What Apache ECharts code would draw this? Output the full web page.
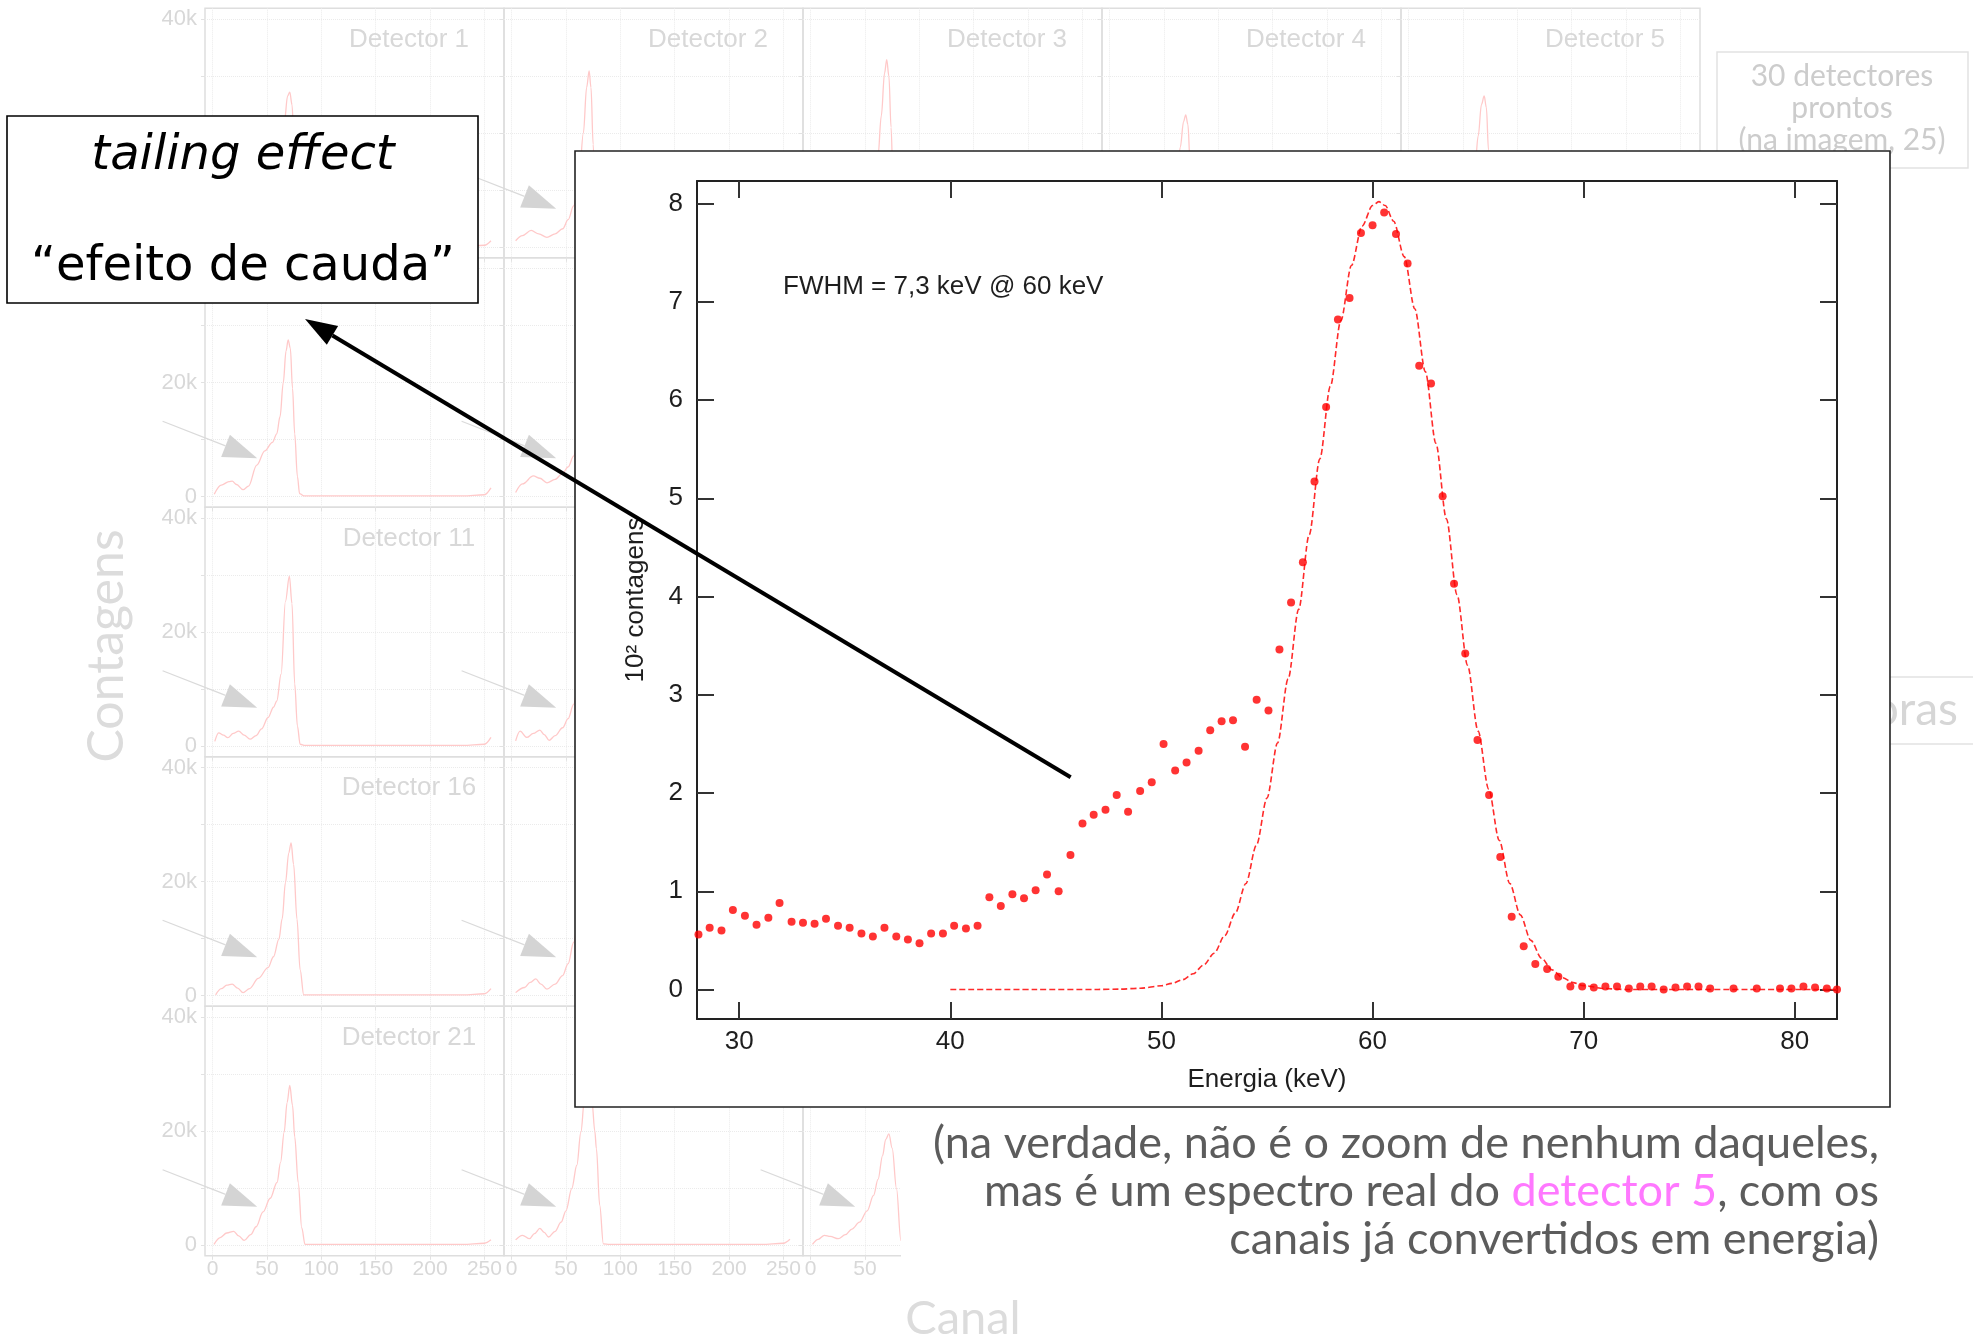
<!DOCTYPE html>
<html>
<head>
<meta charset="utf-8">
<script src="https://cdn.jsdelivr.net/npm/echarts@6/dist/echarts.min.js"></script>
<style>
  html, body { margin: 0; padding: 0; background: #ffffff; }
  #chart { width: 1973px; height: 1336px; }
</style>
</head>
<body>
<div id="chart"></div>
<script>
// ---------------------------------------------------------------
// Detector 5 spectrum (energy in keV, counts in units of 10^2)
// ---------------------------------------------------------------
const energy = [
  28.07, 28.60, 29.16, 29.70, 30.27, 30.82, 31.38, 31.91, 32.48, 33.02,
  33.57, 34.11, 34.68, 35.23, 35.79, 36.33, 36.88, 37.44, 37.99, 38.54,
  39.09, 39.65, 40.18, 40.74, 41.29, 41.85, 42.39, 42.94, 43.49, 44.04,
  44.58, 45.13, 45.69, 46.26, 46.79, 47.35, 47.88, 48.42, 48.99, 49.54,
  50.10, 50.65, 51.19, 51.76, 52.31, 52.85, 53.39, 53.96, 54.51, 55.07,
  55.59, 56.14, 56.70, 57.25, 57.80, 58.36, 58.91, 59.45, 60.00, 60.55,
  61.11, 61.66, 62.21, 62.77, 63.32, 63.86, 64.39, 64.97, 65.52, 66.05,
  66.59, 67.16, 67.71, 68.27, 68.80, 69.37, 69.93, 70.48, 71.03, 71.58,
  72.14, 72.68, 73.22, 73.79, 74.35, 74.90, 75.44, 75.99, 77.10, 78.20,
  79.30, 79.84, 80.41, 80.96, 81.52, 82.00
];
const counts = [
  0.56, 0.63, 0.60, 0.81, 0.75, 0.66, 0.73, 0.88, 0.69, 0.68,
  0.67, 0.72, 0.65, 0.63, 0.57, 0.54, 0.63, 0.54, 0.51, 0.47,
  0.57, 0.57, 0.65, 0.62, 0.65, 0.94, 0.85, 0.97, 0.93, 1.01,
  1.17, 1.00, 1.37, 1.69, 1.78, 1.83, 1.98, 1.81, 2.02, 2.11,
  2.50, 2.23, 2.31, 2.43, 2.64, 2.73, 2.74, 2.47, 2.95, 2.84,
  3.46, 3.94, 4.35, 5.17, 5.93, 6.82, 7.04, 7.70, 7.78, 7.91,
  7.69, 7.39, 6.35, 6.17, 5.02, 4.13, 3.42, 2.54, 1.98, 1.35,
  0.74, 0.44, 0.26, 0.21, 0.13, 0.03, 0.03, 0.02, 0.03, 0.03,
  0.01, 0.03, 0.03, 0.00, 0.02, 0.03, 0.03, 0.01, 0.01, 0.01,
  0.01, 0.01, 0.03, 0.02, 0.01, 0.00
];

// Gaussian fit of the 60 keV photopeak
const fitEnergy = [
  40, 44, 47, 48, 49, 50,
  50.5, 51, 51.5, 52, 52.5, 53, 53.5, 54, 54.5, 55,
  55.5, 56, 56.5, 57, 57.5, 58, 58.5, 59, 59.5, 60,
  60.3, 60.6,
  61, 61.5, 62, 62.5, 63, 63.5, 64, 64.5, 65, 65.5,
  66, 66.5, 67, 67.5, 68, 68.5, 69, 69.5, 70,
  71, 72, 74, 78, 82
];
const fitCounts = [
  0, 0, 0.001, 0.004, 0.013, 0.038,
  0.063, 0.10, 0.16, 0.25, 0.37, 0.55, 0.78, 1.08, 1.47, 1.95,
  2.51, 3.16, 3.87, 4.63, 5.40, 6.14, 6.81, 7.37, 7.77, 7.98,
  8.02, 7.98,
  7.82, 7.46, 6.93, 6.29, 5.56, 4.79, 4.02, 3.30, 2.63, 2.04,
  1.52, 1.08, 0.76, 0.50, 0.32, 0.20, 0.12, 0.07, 0.04,
  0.01, 0, 0, 0, 0
];

const energyTicks = [30, 40, 50, 60, 70, 80];
const countTicks = [0, 1, 2, 3, 4, 5, 6, 7, 8];

// ---------------------------------------------------------------
// Raw detector spectra: [channel, counts in thousands]
// ---------------------------------------------------------------
const det1 = [[1,0.4],[6,2.0],[12,2.6],[18,2.8],[24,1.8],[29,1.2],[35,2.2],[42,4.5],[50,7.5],[57,11],[62,15],[66,22],[69,26.5],[71,27.2],[73,25],[75,18],[77,8],[79,2.5],[82,0.4],[90,0.1],[160,0.1],[230,0.1],[250,0.3],[256,1.1]];
const det2 = [[3.7,1.1],[10,2.0],[18,2.9],[25,2.3],[32.5,1.7],[40,2.3],[47,3.2],[52,4.8],[57,7.2],[62,12],[66,20],[69,28],[71.3,30.9],[73,28],[75,18],[77,8],[79,2.5],[82,0.4],[90,0.1],[160,0.1],[230,0.1],[250,0.3],[256,1.0]];
const det3 = [[2,0.5],[8,2.0],[16,2.7],[22,2.0],[28,1.3],[35,2.4],[42,4.5],[50,7.5],[57,11],[62,16],[65,23],[68,30.5],[70,32.9],[72,30],[74,21],[76,10],[78,3],[81,0.4],[88,0.1],[160,0.1],[230,0.1],[250,0.3],[256,1.2]];
const det4 = [[2,0.5],[8,1.8],[16,2.4],[22,1.8],[28,1.1],[35,2.0],[42,3.8],[50,6.5],[57,9.5],[62,13],[65,17.5],[68,22],[70,23.2],[72,21.5],[74,15],[76,7.5],[78,2.5],[81,0.4],[88,0.1],[160,0.1],[230,0.1],[250,0.3],[256,1.0]];
const det5 = [[2,0.5],[8,1.9],[16,2.5],[22,1.9],[28,1.2],[35,2.1],[42,4.0],[50,7.0],[57,10.5],[61,14],[64,19.5],[67,25],[69.5,26.5],[71.5,24.5],[73.5,17],[75.5,8],[77.5,2.5],[80,0.4],[88,0.1],[160,0.1],[230,0.1],[250,0.3],[256,1.1]];
const det6 = [[1.5,0.4],[8,2.0],[15,2.6],[18,2.7],[22,2.1],[28,1.2],[33,1.8],[40.6,5.5],[48,8],[55,9.5],[59,11],[62,14],[65,20],[67.5,25.5],[69.5,27.5],[71.5,26],[73.5,19],[75.5,11],[78,3.5],[80,0.5],[84,0.1],[160,0.1],[230,0.1],[250,0.3],[256,1.5]];
const det7 = [[3.7,0.7],[10,2.2],[20,3.6],[26,3.2],[32.5,2.4],[40,3.0],[47,4.1],[52,5.2],[57,7.1],[62,11],[66,19],[69,26],[71,28],[73,25],[75,15],[77,6],[80,1],[84,0.1],[160,0.1],[230,0.1],[250,0.3],[256,1.2]];
const det11 = [[2,0.8],[5.6,2.3],[10,1.9],[14,1.45],[19,2.2],[24,2.6],[29,1.9],[34.4,1.2],[40,1.8],[45,3.0],[51,5],[56,6.8],[59,7.9],[63,12.6],[67,25.4],[70.6,29.8],[73,25],[75.5,10.9],[78,3.5],[80.5,0.3],[85,0.1],[160,0.1],[230,0.1],[250,0.3],[256,1.5]];
const det12 = [[3.7,0.9],[7.8,2.6],[14,1.5],[20,2.2],[26,2.8],[30,2.0],[34.5,1.0],[40,1.8],[46.9,3.2],[52,4.8],[57,7.3],[62,12],[66,21],[69,27],[71,28.5],[73,25],[75,15],[77,6],[80,1],[84,0.1],[160,0.1],[230,0.1],[250,0.3],[256,1.2]];
const det16 = [[2.8,0.1],[8,1.2],[13,1.8],[18,2.0],[23,1.3],[28,0.5],[34,1.2],[42,3.0],[51,4.9],[56,6.8],[61,9.9],[64,13.5],[67,19.8],[70,25],[72.2,26.8],[74.5,23],[77.6,13.4],[80.5,4.5],[83.8,0.1],[160,0.1],[230,0.1],[250,0.3],[256,1.2]];
const det17 = [[3.7,0.5],[12,1.4],[17,2.3],[22.2,2.9],[27,2.0],[32.5,1.1],[40,2.0],[46.9,3.5],[52,5.6],[57,9.3],[62,14],[66,21],[69,26],[71,27.5],[73,24],[75,15],[77,6],[80,1],[84,0.1],[160,0.1],[230,0.1],[250,0.3],[256,1.2]];
const det21 = [[1.3,0.1],[7,1.3],[13,2.1],[19.4,2.4],[24,1.6],[29,0.8],[35,1.8],[40,3.2],[46.4,5.8],[53,8.2],[59.3,11],[62.5,14.5],[65.8,19.8],[68.5,25],[71,28],[73.5,24.5],[75.5,19],[78.7,11],[82,3],[85,0.1],[160,0.1],[230,0.1],[250,0.3],[256,0.9]];
const det22 = [[3.7,0.9],[10,1.7],[16.5,1.1],[21,2.0],[26,2.9],[30,2.2],[34,1.4],[40,2.4],[45.5,4.0],[50,6.0],[55.3,9.9],[60,14],[63.7,19.8],[67,25.5],[70.4,29],[74,25],[76.5,20],[78,16.9],[81,7],[84.4,0.2],[90,0.1],[160,0.1],[230,0.1],[250,0.3],[256,1.0]];
const det23 = [[1.7,0.1],[7,1.0],[12.7,1.7],[18,1.5],[25.5,1.1],[32,1.8],[38,2.8],[45,4.0],[52,6.0],[57.9,8.7],[62,11.5],[66.2,15.7],[69,18.5],[72,19.5],[75,17],[79,9.9],[83,0.8],[87,0.1],[160,0.1],[230,0.1],[250,0.3],[256,1.0]];

const channelTicks = [0, 50, 100, 150, 200, 250];
const kCountTicks = [0, 10, 20, 30, 40];
const kCountLabels = [0, 20, 40];

// Annotation arrow in each panel (channel, thousands): tail of the spectrum
const tailArrow = { from: [-46, 13.2], to: [41, 6.7] };
// Main arrow starts on the low-energy tail of the detector 5 spectrum
const tailPoint = [45.7, 2.16];

// ---------------------------------------------------------------
// Layout
// ---------------------------------------------------------------
const PANEL = { left: 205, top: 8.3, w: 299, h: 249.5 };
const MAIN = { left: 697, top: 181, width: 1140, height: 838 };
const INSET = { x: 575, y: 151, w: 1315, h: 956 };
const BG_TEXT = '#d8d8d8';
const SANS = '"Liberation Sans", Arial, sans-serif';

const panels = [
  { name: 'Detector 1',  row: 0, col: 0, data: det1 },
  { name: 'Detector 2',  row: 0, col: 1, data: det2 },
  { name: 'Detector 3',  row: 0, col: 2, data: det3 },
  { name: 'Detector 4',  row: 0, col: 3, data: det4 },
  { name: 'Detector 5',  row: 0, col: 4, data: det5 },
  { name: 'Detector 6',  row: 1, col: 0, data: det6 },
  { name: 'Detector 7',  row: 1, col: 1, data: det7 },
  { name: 'Detector 11', row: 2, col: 0, data: det11 },
  { name: 'Detector 12', row: 2, col: 1, data: det12 },
  { name: 'Detector 16', row: 3, col: 0, data: det16 },
  { name: 'Detector 17', row: 3, col: 1, data: det17 },
  { name: 'Detector 21', row: 4, col: 0, data: det21 },
  { name: 'Detector 22', row: 4, col: 1, data: det22 },
  { name: 'Detector 23', row: 4, col: 2, data: det23 }
];

const grids = [], xAxes = [], yAxes = [], series = [];

panels.forEach((p, i) => {
  grids.push({
    left: PANEL.left + p.col * PANEL.w,
    top: PANEL.top + p.row * PANEL.h,
    width: PANEL.w, height: PANEL.h,
    show: true, borderColor: '#dedede', borderWidth: 1.5,
    backgroundColor: 'transparent', outerBoundsMode: 'none'
  });
  xAxes.push({
    gridIndex: i, type: 'value', min: -7, max: 268,
    axisLine: { show: false, onZero: false },
    axisTick: { show: true, length: 4, customValues: channelTicks, lineStyle: { color: '#e2e2e2' } },
    axisLabel: { show: p.row === 4, customValues: channelTicks, margin: 3,
                 fontSize: 21, fontFamily: SANS, color: BG_TEXT },
    splitLine: { show: true, lineStyle: { type: 'dotted', color: '#ebebeb', width: 1 } }
  });
  yAxes.push({
    gridIndex: i, type: 'value', min: -1.9, max: 41.9,
    axisLine: { show: false, onZero: false },
    axisTick: { show: true, length: 4, customValues: kCountTicks, lineStyle: { color: '#e2e2e2' } },
    axisLabel: { show: p.col === 0, customValues: kCountLabels, margin: 8,
                 fontSize: 22, fontFamily: SANS, color: BG_TEXT,
                 formatter: v => (v === 0 ? '0' : v + 'k') },
    splitLine: { show: true, lineStyle: { type: 'dotted', color: '#ebebeb', width: 1 } }
  });
  series.push({
    type: 'line', xAxisIndex: i, yAxisIndex: i, data: p.data,
    smooth: 0.35, smoothMonotone: 'x', symbol: 'none', silent: true, z: 2,
    lineStyle: { color: '#ffc9c9', width: 1.3 }
  });
});

// Main spectrum plot (boxed, ticks on all four sides pointing inwards)
const mg = panels.length;
grids.push({ left: MAIN.left, top: MAIN.top, width: MAIN.width, height: MAIN.height, outerBoundsMode: 'none' });

const frameLine = { show: true, onZero: false, lineStyle: { color: '#222', width: 2 } };
const tickStyle = { color: '#333', width: 2 };
const labelStyle = { fontSize: 26, fontFamily: SANS, color: '#1e1e1e' };

const mainX = xAxes.length;
xAxes.push({
  gridIndex: mg, type: 'value', min: 28, max: 82, position: 'bottom', z: 40,
  axisLine: frameLine,
  axisTick: { show: true, inside: true, length: 17, customValues: energyTicks, lineStyle: tickStyle },
  axisLabel: Object.assign({ customValues: energyTicks, margin: 10 }, labelStyle),
  splitLine: { show: false },
  name: 'Energia (keV)', nameLocation: 'middle', nameGap: 48, nameTextStyle: labelStyle
});
xAxes.push({
  gridIndex: mg, type: 'value', min: 28, max: 82, position: 'top', z: 40,
  axisLine: frameLine,
  axisTick: { show: true, inside: true, length: 17, customValues: energyTicks, lineStyle: tickStyle },
  axisLabel: { show: false }, splitLine: { show: false }
});
const mainY = yAxes.length;
yAxes.push({
  gridIndex: mg, type: 'value', min: -0.3, max: 8.23, position: 'left', z: 40,
  axisLine: frameLine,
  axisTick: { show: true, inside: true, length: 17, customValues: countTicks, lineStyle: tickStyle },
  axisLabel: Object.assign({ customValues: countTicks, margin: 14 }, labelStyle),
  splitLine: { show: false },
  name: '10² contagens', nameLocation: 'middle', nameGap: 48, nameTextStyle: labelStyle
});
yAxes.push({
  gridIndex: mg, type: 'value', min: -0.3, max: 8.23, position: 'right', z: 40,
  axisLine: frameLine,
  axisTick: { show: true, inside: true, length: 17, customValues: countTicks, lineStyle: tickStyle },
  axisLabel: { show: false }, splitLine: { show: false }
});

series.push({
  name: 'ajuste', type: 'line', xAxisIndex: mainX, yAxisIndex: mainY,
  data: fitEnergy.map((e, i) => [e, fitCounts[i]]),
  smooth: 0.3, smoothMonotone: 'x', symbol: 'none', z: 41, silent: true,
  lineStyle: { color: '#ff2a2a', width: 1.6, type: [6, 3] }
});
series.push({
  name: 'detector 5', type: 'scatter', xAxisIndex: mainX, yAxisIndex: mainY,
  data: energy.map((e, i) => [e, counts[i]]),
  symbol: 'circle', symbolSize: 8, z: 42, silent: true,
  itemStyle: { color: '#ff0000' }
});

const chart = echarts.init(document.getElementById('chart'), null, { renderer: 'canvas' });
chart.setOption({
  animation: false,
  backgroundColor: '#ffffff',
  textStyle: { fontFamily: SANS },
  grid: grids, xAxis: xAxes, yAxis: yAxes, series: series
});

// ---------------------------------------------------------------
// Overlays: boxes, labels, arrows
// ---------------------------------------------------------------
function arrowShapes(a, b, o) {
  const dx = b[0] - a[0], dy = b[1] - a[1];
  const L = Math.hypot(dx, dy), ux = dx / L, uy = dy / L;
  const bx = b[0] - ux * o.len, by = b[1] - uy * o.len;
  const nx = -uy, ny = ux;
  return [
    { type: 'line', z: o.z, silent: true,
      shape: { x1: a[0], y1: a[1], x2: bx, y2: by },
      style: { stroke: o.lineColor, lineWidth: o.lineWidth } },
    { type: 'polygon', z: o.z, silent: true,
      shape: { points: [[b[0], b[1]], [bx + nx * o.half, by + ny * o.half], [bx - nx * o.half, by - ny * o.half]] },
      style: { fill: o.headColor } }
  ];
}

function text(x, y, str, font, fill, z, extra) {
  return Object.assign({
    type: 'text', x: x, y: y, z: z, silent: true,
    style: { text: str, font: font, fill: fill, textAlign: 'center', textVerticalAlign: 'middle' }
  }, extra || {});
}

const els = [];

// panel titles and tail arrows
panels.forEach((p, i) => {
  const gx = PANEL.left + p.col * PANEL.w, gy = PANEL.top + p.row * PANEL.h;
  els.push(text(gx + 204, gy + 31.5, p.name, '26px ' + SANS, BG_TEXT, 3));
  const a = chart.convertToPixel({ gridIndex: i }, tailArrow.from);
  const b = chart.convertToPixel({ gridIndex: i }, tailArrow.to);
  els.push(...arrowShapes(a, b, { len: 34, half: 12, z: 4, lineColor: '#dadada', lineWidth: 1.2, headColor: '#d4d4d4' }));
});

// axis titles of the detector grid
els.push(text(107, 646, 'Contagens', '50px Lato', '#dcdcdc', 21, { rotation: Math.PI / 2 }));

// white area behind the note
els.push({ type: 'rect', z: 20, silent: true,
  shape: { x: 901, y: INSET.y + INSET.h, width: 1072, height: 1336 - INSET.y - INSET.h },
  style: { fill: '#ffffff' } });
els.push(text(963, 1319, 'Canal', '47px Lato', '#dcdcdc', 21));

// side notes
els.push({ type: 'rect', z: 21, silent: true,
  shape: { x: 1717, y: 52, width: 251, height: 116 },
  style: { fill: '#ffffff', stroke: '#e2e2e2', lineWidth: 1.5 } });
els.push(text(1842, 76, '30 detectores', '30px Lato', '#cccccc', 22));
els.push(text(1842, 108, 'prontos', '30px Lato', '#cccccc', 22));
els.push(text(1842, 140, '(na imagem, 25)', '30px Lato', '#cccccc', 22));

els.push({ type: 'rect', z: 21, silent: true,
  shape: { x: 1700, y: 677, width: 290, height: 67 },
  style: { fill: '#ffffff', stroke: '#e2e2e2', lineWidth: 1.5 } });
els.push({ type: 'text', x: 1958, y: 710, z: 22, silent: true,
  style: { text: 'horas', font: '46px Lato', fill: '#d6d6d6', textAlign: 'right', textVerticalAlign: 'middle' } });

// inset frame holding the detector 5 spectrum
els.push({ type: 'rect', z: 30, silent: true,
  shape: { x: INSET.x, y: INSET.y, width: INSET.w, height: INSET.h },
  style: { fill: '#ffffff', stroke: '#222222', lineWidth: 1.6 } });
els.push({ type: 'text', x: 783, y: 287, z: 45, silent: true,
  style: { text: 'FWHM = 7,3 keV @ 60 keV', font: '26px ' + SANS, fill: '#1e1e1e', textAlign: 'left', textVerticalAlign: 'middle' } });

// note below the inset
const noteFont = '45px Lato';
const noteColor = '#5c5c5c';
const noteRight = 1879;
els.push({ type: 'text', x: noteRight, y: 1143, z: 45, silent: true,
  style: { text: '(na verdade, não é o zoom de nenhum daqueles,', font: noteFont, fill: noteColor, textAlign: 'right', textVerticalAlign: 'middle' } });
els.push({ type: 'text', x: noteRight, y: 1191, z: 45, silent: true,
  style: { text: 'mas é um espectro real do {p|detector 5}, com os', font: noteFont, fill: noteColor,
           textAlign: 'right', textVerticalAlign: 'middle',
           rich: { p: { font: noteFont, fill: '#ff78ff' } } } });
els.push({ type: 'text', x: noteRight, y: 1239, z: 45, silent: true,
  style: { text: 'canais já convertidos em energia)', font: noteFont, fill: noteColor, textAlign: 'right', textVerticalAlign: 'middle' } });

// "tailing effect" callout
els.push({ type: 'rect', z: 50, silent: true,
  shape: { x: 7, y: 116, width: 471, height: 187 },
  style: { fill: '#ffffff', stroke: '#000000', lineWidth: 1.6 } });
els.push(text(243, 157, 'tailing effect', 'italic 48px "DejaVu Sans"', '#000000', 51));
els.push(text(243, 268, '“efeito de cauda”', '48px "DejaVu Sans"', '#000000', 51));

const start = chart.convertToPixel({ xAxisIndex: mainX, yAxisIndex: mainY }, tailPoint);
els.push(...arrowShapes(start, [305, 319], { len: 32, half: 11, z: 55, lineColor: '#000000', lineWidth: 4, headColor: '#000000' }));

chart.setOption({ graphic: { elements: els } });
</script>
</body>
</html>
